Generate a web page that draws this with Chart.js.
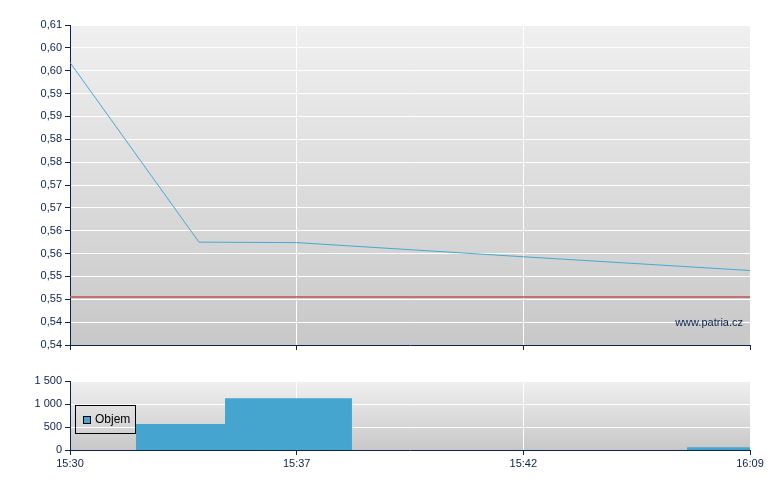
<!DOCTYPE html>
<html>
<head>
<meta charset="utf-8">
<script src="https://cdn.jsdelivr.net/npm/chart.js@4/dist/chart.umd.min.js"></script>
<style>
    body { margin: 0; background: #fff; }
    #wrap { position: relative; width: 780px; height: 490px; }
    #price { position: absolute; left: 0; top: 0; }
    #volume { position: absolute; left: 0; top: 360px; }
</style>
</head>
<body>
<div id="wrap">
    <canvas id="price" width="780" height="360"></canvas>
    <canvas id="volume" width="780" height="130"></canvas>
</div>
<script>
// x positions are in "label slots" - the axis is spaced evenly by label, not by time
const timeLabels = ['15:30', '15:37', '15:42', '16:09'];
const timeTicks = [0, 1, 2, 3];

const priceX = [0, 0.569, 1, 2, 3];
const prices = [0.6018, 0.5625, 0.5624, 0.5593, 0.5563];
const refPrice = 0.5505;

const priceTicks = [0.54, 0.545, 0.55, 0.555, 0.56, 0.565, 0.57, 0.575, 0.58, 0.585, 0.59, 0.595, 0.60, 0.605, 0.61];
const priceTickLabels = ['0,54', '0,54', '0,55', '0,55', '0,56', '0,56', '0,57', '0,57', '0,58', '0,58', '0,59', '0,59', '0,60', '0,60', '0,61'];

// volume steps: value holds from this x until the next one
const volumeX = [0, 0.291, 0.684, 1.244, 2.722, 3];
const volumes = [0, 565, 1125, 0, 58, 58];
const volumeTicks = [0, 500, 1000, 1500];
const volumeTickLabels = ['0', '500', '1 000', '1 500'];

const NAVY = '#0c2352';
const FONT = { family: 'Liberation Sans', size: 11 };

const bgPlugin = {
    id: 'bg',
    beforeDraw(chart) {
        const { ctx, chartArea: a } = chart;
        const g = ctx.createLinearGradient(0, a.top, 0, a.bottom);
        g.addColorStop(0, '#f0f0f0');
        g.addColorStop(1, '#c8c8c8');
        ctx.save();
        ctx.fillStyle = g;
        ctx.fillRect(a.left, a.top, a.right - a.left, a.bottom - a.top);
        ctx.restore();
    }
};

const watermark = {
    id: 'watermark',
    afterDatasetsDraw(chart) {
        const { ctx, chartArea: a } = chart;
        ctx.save();
        ctx.font = '11px "Liberation Sans"';
        ctx.fillStyle = NAVY;
        ctx.textAlign = 'right';
        ctx.textBaseline = 'middle';
        ctx.fillText('www.patria.cz', a.right - 7, a.bottom - 22);
        ctx.restore();
    }
};

const boxLegend = {
    id: 'boxLegend',
    afterDraw(chart) {
        const { ctx, chartArea: a } = chart;
        const ds = chart.data.datasets[0];
        const x = a.left + 5, y = a.top + 24;
        ctx.save();
        ctx.strokeStyle = '#000';
        ctx.lineWidth = 1;
        ctx.strokeRect(x + 0.5, y + 0.5, 60, 28);
        ctx.fillStyle = ds.backgroundColor;
        ctx.fillRect(x + 8, y + 11, 8, 8);
        ctx.strokeRect(x + 8.5, y + 11.5, 7, 7);
        ctx.font = '12px "Liberation Sans"';
        ctx.fillStyle = '#000';
        ctx.textBaseline = 'middle';
        ctx.fillText(ds.label, x + 20, y + 15);
        ctx.restore();
    }
};

function xScale(showLabels, height) {
    return {
        type: 'linear',
        min: 0,
        max: 3,
        afterBuildTicks: s => { s.ticks = timeTicks.map(v => ({ value: v })); },
        afterFit: s => { s.height = height; },
        ticks: {
            display: showLabels,
            autoSkip: false,
            maxRotation: 0,
            color: NAVY,
            font: FONT,
            padding: 2,
            callback: (v, i) => timeLabels[i]
        },
        grid: { color: '#fff', tickColor: NAVY, tickLength: 5, lineWidth: 1 },
        border: { color: NAVY, width: 1 }
    };
}

function yScale(min, max, tickValues, tickLabels) {
    return {
        min: min,
        max: max,
        afterBuildTicks: s => { s.ticks = tickValues.map(v => ({ value: v })); },
        afterFit: s => { s.width = 70; },
        ticks: {
            autoSkip: false,
            color: NAVY,
            font: FONT,
            padding: 3,
            callback: (v, i) => tickLabels[i]
        },
        grid: { color: '#fff', tickColor: NAVY, tickLength: 5, lineWidth: 1 },
        border: { color: NAVY, width: 1 }
    };
}

function displayPriceChart($ctx) {
    new Chart($ctx, {
        type: 'line',
        data: {
            datasets: [{
                label: 'Cena',
                data: priceX.map((x, i) => ({ x: x, y: prices[i] })),
                borderColor: '#4aa6d4',
                borderWidth: 1,
                pointRadius: 0,
                tension: 0
            }, {
                label: 'Ref',
                data: [{ x: 0, y: refPrice }, { x: 3, y: refPrice }],
                borderColor: 'rgba(196, 96, 96, 0.85)',
                borderWidth: 2,
                pointRadius: 0
            }]
        },
        options: {
            responsive: false,
            animation: false,
            devicePixelRatio: 1,
            layout: { padding: { top: 25, right: 30, left: 0, bottom: 0 } },
            plugins: { legend: { display: false }, tooltip: { enabled: false } },
            scales: {
                x: xScale(false, 15),
                y: yScale(0.54, 0.61, priceTicks, priceTickLabels)
            }
        },
        plugins: [bgPlugin, watermark]
    });
}

function displayVolumeChart($ctx) {
    new Chart($ctx, {
        type: 'line',
        data: {
            datasets: [{
                label: 'Objem',
                data: volumeX.map((x, i) => ({ x: x, y: volumes[i] })),
                stepped: true,
                fill: 'origin',
                backgroundColor: '#46a5cf',
                borderWidth: 0,
                pointRadius: 0
            }]
        },
        options: {
            responsive: false,
            animation: false,
            devicePixelRatio: 1,
            layout: { padding: { top: 21, right: 30, left: 0, bottom: 0 } },
            plugins: { legend: { display: false }, tooltip: { enabled: false } },
            scales: {
                x: xScale(true, 40),
                y: yScale(0, 1500, volumeTicks, volumeTickLabels)
            }
        },
        plugins: [bgPlugin, boxLegend]
    });
}

document.addEventListener('DOMContentLoaded', function() {
    displayPriceChart(document.getElementById('price'));
    displayVolumeChart(document.getElementById('volume'));
}, false);
</script>
</body>
</html>
